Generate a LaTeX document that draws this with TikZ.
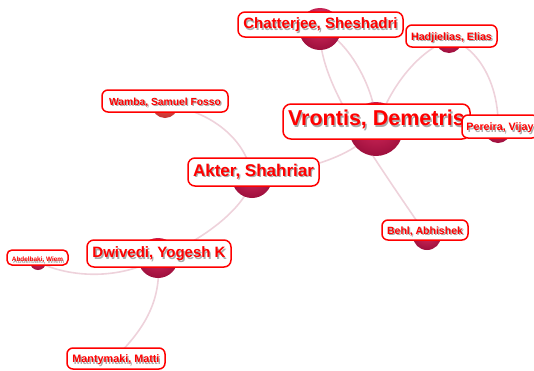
\documentclass[tikz,border=0pt]{standalone}
\usepackage{fontspec}
\setmainfont{Liberation Sans}
\definecolor{linkpink}{RGB}{238,210,219}
\definecolor{labelred}{RGB}{255,0,0}
\definecolor{shadowgrey}{RGB}{150,150,150}
% sphere shadings: light spot above the centre, darker rim
\pgfdeclareradialshading{orb}{\pgfpoint{0bp}{14bp}}{%
  rgb(0bp)=(0.86,0.32,0.44); rgb(14bp)=(0.78,0.14,0.33);
  rgb(30bp)=(0.62,0.06,0.24); rgb(50bp)=(0.55,0.04,0.21)}
\pgfdeclareradialshading{orbwarm}{\pgfpoint{0bp}{14bp}}{%
  rgb(0bp)=(0.95,0.45,0.35); rgb(14bp)=(0.88,0.30,0.25);
  rgb(30bp)=(0.78,0.20,0.20); rgb(50bp)=(0.70,0.14,0.18)}
\tikzset{
  link/.style={draw=linkpink, line width=1.6pt},
  orbnode/.style={circle, inner sep=0pt, shading=orb, minimum size=#1},
  warmorb/.style={circle, inner sep=0pt, shading=orbwarm, minimum size=#1},
  lbox/.style={draw=labelred, fill=white, line width=1.5pt,
    rounded corners=#1, inner sep=0pt},
  lbox/.default=7pt,
  ltext/.style={text=labelred, inner sep=0pt, text height=0.85em, text depth=0pt},
  lshadow/.style={text=shadowgrey, inner sep=0pt, text height=0.85em, text depth=0pt,
    opacity=0.8}
}
% label box with drop-shadowed bold text:
% name, centre, width, height, font size, corner radius, text
\newcommand\namebox[7]{%
  \node[lbox=#6, minimum width=#3pt, minimum height=#4pt] (#1) at (#2) {};
  \node[lshadow, font=\fontsize{#5}{#5}\selectfont\bfseries]
    (#1-s) at ([shift={(1.3pt,-1.3pt)}]#1.center) {#7};
  \node[ltext, font=\fontsize{#5}{#5}\selectfont\bfseries]
    (#1-t) at (#1.center) {#7};
}
\begin{document}
\begin{tikzpicture}[x=1pt, y=-1pt]
\useasboundingbox (0,0) rectangle (534,370);

% author spheres (centres)
\coordinate (vr) at (376,129);
\coordinate (ch) at (320,29);
\coordinate (ha) at (449,40);
\coordinate (pe) at (498,130);
\coordinate (be) at (427,236);
\coordinate (ak) at (252,178);
\coordinate (wa) at (165,105);
\coordinate (dw) at (158,258);
\coordinate (ab) at (38,262);
\coordinate (ma) at (116,357);

% co-authorship links
\draw[link] (ch) .. controls (350,40) and (378,95) .. (vr);
\draw[link] (ch) .. controls (318,80) and (365,145) .. (be);
\draw[link] (ha) .. controls (420,50) and (390,85) .. (vr);
\draw[link] (ha) .. controls (474,44) and (500,80) .. (pe);
\draw[link] (vr) .. controls (350,160) and (300,170) .. (ak);
\draw[link] (ak) .. controls (248,140) and (210,110) .. (wa);
\draw[link] (ak) .. controls (248,205) and (205,240) .. (dw);
\draw[link] (dw) .. controls (120,280) and (70,278) .. (ab);
\draw[link] (dw) .. controls (162,300) and (145,328) .. (ma);

% spheres
\node[orbnode=54pt] (vr-o) at (vr) {};
\node[orbnode=42pt] (ch-o) at (ch) {};
\node[orbnode=26pt] (ha-o) at (ha) {};
\node[orbnode=26pt] (pe-o) at (pe) {};
\node[orbnode=28pt] (be-o) at (be) {};
\node[orbnode=40pt] (ak-o) at (ak) {};
\node[warmorb=26pt] (wa-o) at (wa) {};
\node[orbnode=40pt] (dw-o) at (dw) {};
\node[orbnode=16pt] (ab-o) at (ab) {};
\node[orbnode=14pt] (ma-o) at (ma) {};

% name labels
\namebox{vr-l}{376.5,121.5}{187}{35}{21.5}{8pt}{Vrontis, Demetris}
\namebox{ch-l}{320.5,24.5}{165}{25}{15}{7pt}{Chatterjee, Sheshadri}
\namebox{ha-l}{451.5,36}{91}{22}{10.7}{6pt}{Hadjielias, Elias}
\namebox{pe-l}{500,126.5}{76}{23}{10.7}{6pt}{Pereira, Vijay}
\namebox{be-l}{425,230}{86}{20}{10.5}{6pt}{Behl, Abhishek}
\namebox{ak-l}{253.5,172}{131}{28}{17}{7pt}{Akter, Shahriar}
\namebox{wa-l}{165,101}{126}{22}{10.3}{6pt}{Wamba, Samuel Fosso}
\namebox{dw-l}{159,253.5}{144}{27}{15}{7pt}{Dwivedi, Yogesh K}
\namebox{ab-l}{37.5,257.5}{61}{15}{6.4}{5pt}{Abdelbaki, Wiem}
\namebox{ma-l}{116,358.5}{98}{21}{10.8}{6pt}{Mantymaki, Matti}
\end{tikzpicture}
\end{document}
